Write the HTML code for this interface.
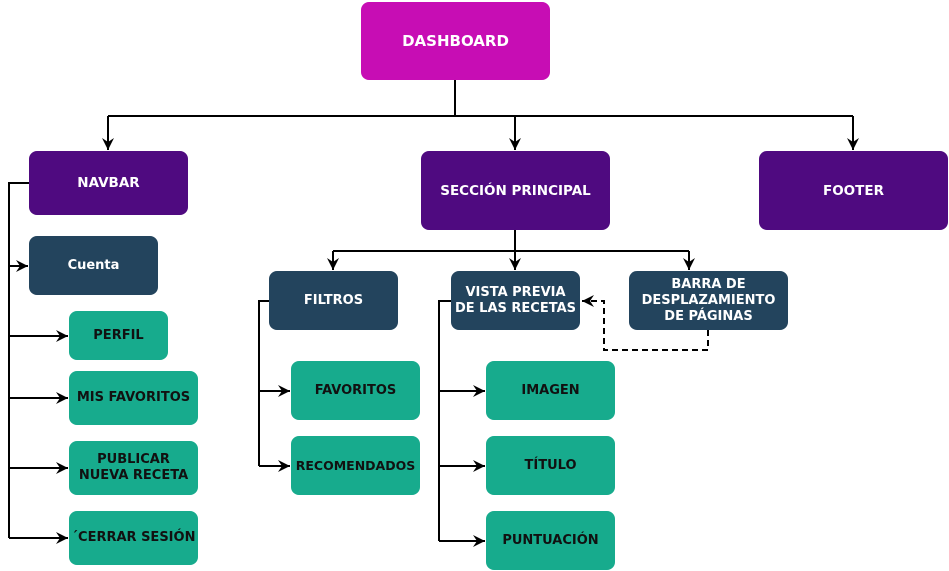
<!DOCTYPE html>
<html><head><meta charset="utf-8"><style>
body{margin:0;background:#fff;width:949px;height:571px;overflow:hidden;position:relative;font-family:"DejaVu Sans","Liberation Sans",sans-serif;font-weight:bold}
.b{position:absolute;border-radius:8px;display:flex;align-items:center;justify-content:center;text-align:center;font-size:13px;line-height:16px;box-sizing:border-box}
.p{background:#4f0a80;color:#fff;font-size:13.5px}
.d{background:#23445d;color:#fff}
.g{background:#17ab8d;color:#111}
svg{position:absolute;left:0;top:0}
</style></head><body>
<svg width="949" height="571">
<defs><marker id="a" markerWidth="14" markerHeight="14" refX="12" refY="6" orient="auto" markerUnits="userSpaceOnUse"><path d="M0,0 L12,6 L0,12 L4,6 Z" fill="#000"/></marker></defs>
<g stroke="#000" stroke-width="2" fill="none">
<path d="M455,80 V116"/>
<path d="M108,116 H853"/>
<path d="M108,116 V150" marker-end="url(#a)"/>
<path d="M515,116 V150" marker-end="url(#a)"/>
<path d="M853,116 V150" marker-end="url(#a)"/>
<path d="M29,183 H9 V538"/>
<path d="M9,266 H28" marker-end="url(#a)"/>
<path d="M9,336 H68" marker-end="url(#a)"/>
<path d="M9,398 H68" marker-end="url(#a)"/>
<path d="M9,468 H68" marker-end="url(#a)"/>
<path d="M9,538 H68" marker-end="url(#a)"/>
<path d="M515,230 V251"/>
<path d="M333,251 H689"/>
<path d="M333,251 V270" marker-end="url(#a)"/>
<path d="M515,251 V270" marker-end="url(#a)"/>
<path d="M689,251 V270" marker-end="url(#a)"/>
<path d="M269,301 H259 V466"/>
<path d="M259,391 H290" marker-end="url(#a)"/>
<path d="M259,466 H290" marker-end="url(#a)"/>
<path d="M451,301 H439 V541"/>
<path d="M439,391 H485" marker-end="url(#a)"/>
<path d="M439,466 H485" marker-end="url(#a)"/>
<path d="M439,541 H485" marker-end="url(#a)"/>
<path d="M708,330 V350 H604 V301 H582" stroke-dasharray="6,4" marker-end="url(#a)"/>
</g></svg>
<div class="b" style="left:361px;top:2px;width:189px;height:78px;background:#c70db4;color:#fff;font-size:15px">DASHBOARD</div>
<div class="b p" style="left:29px;top:151px;width:159px;height:64px">NAVBAR</div>
<div class="b p" style="left:421px;top:151px;width:189px;height:79px">SECCIÓN PRINCIPAL</div>
<div class="b p" style="left:759px;top:151px;width:189px;height:79px">FOOTER</div>
<div class="b d" style="left:29px;top:236px;width:129px;height:59px">Cuenta</div>
<div class="b g" style="left:69px;top:311px;width:99px;height:49px">PERFIL</div>
<div class="b g" style="left:69px;top:371px;width:129px;height:54px">MIS FAVORITOS</div>
<div class="b g" style="left:69px;top:441px;width:129px;height:54px">PUBLICAR<br>NUEVA RECETA</div>
<div class="b g" style="left:69px;top:511px;width:129px;height:54px">´CERRAR SESIÓN</div>
<div class="b d" style="left:269px;top:271px;width:129px;height:59px">FILTROS</div>
<div class="b g" style="left:291px;top:361px;width:129px;height:59px">FAVORITOS</div>
<div class="b g" style="left:291px;top:436px;width:129px;height:59px;font-size:12.5px">RECOMENDADOS</div>
<div class="b d" style="left:451px;top:271px;width:129px;height:59px">VISTA PREVIA<br>DE LAS RECETAS</div>
<div class="b d" style="left:629px;top:271px;width:159px;height:59px">BARRA DE<br>DESPLAZAMIENTO<br>DE PÁGINAS</div>
<div class="b g" style="left:486px;top:361px;width:129px;height:59px">IMAGEN</div>
<div class="b g" style="left:486px;top:436px;width:129px;height:59px">TÍTULO</div>
<div class="b g" style="left:486px;top:511px;width:129px;height:59px">PUNTUACIÓN</div>
</body></html>
